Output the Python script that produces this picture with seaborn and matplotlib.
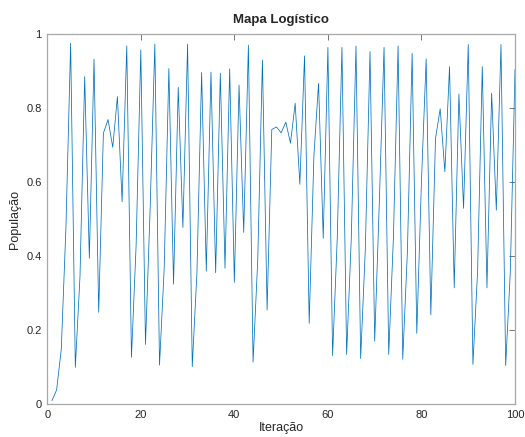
import matplotlib
matplotlib.use('Agg')
import matplotlib.pyplot as plt
import numpy as np
import seaborn as sns

# populacao, iteracoes 1..100
populacao = [
    0.009, 0.038, 0.148, 0.480, 0.975, 0.099, 0.345, 0.885, 0.394, 0.932,
    0.248, 0.732, 0.769, 0.694, 0.831, 0.547, 0.968, 0.126, 0.430, 0.957,
    0.161, 0.530, 0.973, 0.105, 0.367, 0.907, 0.324, 0.856, 0.477, 0.973,
    0.101, 0.355, 0.896, 0.359, 0.897, 0.355, 0.894, 0.367, 0.906, 0.329,
    0.862, 0.464, 0.970, 0.113, 0.390, 0.930, 0.254, 0.742, 0.749, 0.733,
    0.762, 0.705, 0.813, 0.594, 0.941, 0.218, 0.670, 0.867, 0.448, 0.964,
    0.131, 0.450, 0.964, 0.134, 0.450, 0.968, 0.123, 0.420, 0.953, 0.170,
    0.550, 0.964, 0.134, 0.450, 0.968, 0.121, 0.415, 0.948, 0.191, 0.603,
    0.933, 0.241, 0.718, 0.798, 0.628, 0.912, 0.314, 0.838, 0.529, 0.972,
    0.107, 0.360, 0.912, 0.314, 0.840, 0.524, 0.972, 0.104, 0.360, 0.905,
]
iteracao = np.arange(1, len(populacao) + 1)

xticks = [0, 20, 40, 60, 80, 100]
yticks = [0, 0.2, 0.4, 0.6, 0.8, 1]
ytick_labels = ['0', '0.2', '0.4', '0.6', '0.8', '1']

sns.set_style('white')
plt.rcParams['font.family'] = ['Liberation Sans', 'DejaVu Sans']

fig = plt.figure(figsize=(5.25, 4.37), dpi=100)
ax = fig.add_axes([0.090, 0.0755, 0.891, 0.8465])

sns.lineplot(x=iteracao, y=populacao, ax=ax, color='#0072BD', linewidth=0.55)

ax.set_xlim(0, 100)
ax.set_ylim(0, 1)
ax.set_xticks(xticks)
ax.set_xticklabels([str(t) for t in xticks])
ax.set_yticks(yticks)
ax.set_yticklabels(ytick_labels)
ax.tick_params(axis='both', direction='in', length=4, width=0.6, color='#606060',
               labelcolor='#262626', labelsize=8, top=True, right=True, pad=4)
for s in ax.spines.values():
    s.set_visible(True)
    s.set_color('#a8a8a8')
    s.set_linewidth(0.9)

ax.set_xlabel('Iteração', fontsize=9, color='#262626', labelpad=2)
ax.set_ylabel('População', fontsize=9, color='#262626', labelpad=4)
ax.set_title('Mapa Logístico', fontsize=9.5, fontweight='bold', pad=8)

fig.savefig('out.png', dpi=100)
